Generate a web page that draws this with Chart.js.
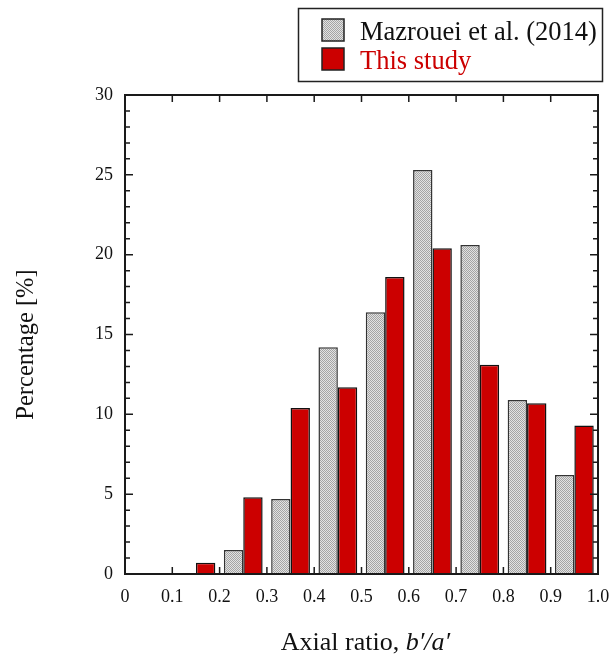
<!DOCTYPE html>
<html>
<head>
<meta charset="utf-8">
<script src="https://cdn.jsdelivr.net/npm/chart.js@4.4.1/dist/chart.umd.min.js"></script>
<style>
  html, body { margin: 0; padding: 0; background: #fff; }
</style>
</head>
<body>
<canvas id="myChart" width="612" height="659"></canvas>
<script>
// axial ratio bins (width 0.1)
const bins = ['0.0-0.1', '0.1-0.2', '0.2-0.3', '0.3-0.4', '0.4-0.5',
              '0.5-0.6', '0.6-0.7', '0.7-0.8', '0.8-0.9', '0.9-1.0'];
const xTicks = [0, 0.1, 0.2, 0.3, 0.4, 0.5, 0.6, 0.7, 0.8, 0.9, 1.0];
const yTicks = [0, 5, 10, 15, 20, 25, 30];
const seriesNames = ['Mazrouei et al. (2014)', 'This study'];
const mazrouei = [0, 0, 1.5, 4.7, 14.2, 16.4, 25.3, 20.6, 10.9, 6.2];
const thisStudy = [0, 0.7, 4.8, 10.4, 11.7, 18.6, 20.4, 13.1, 10.7, 9.3];

const FONT = '"Liberation Serif", "Times New Roman", serif';
const RED = '#cc0000';

// fine dotted gray fill
function dotPattern() {
  const c = document.createElement('canvas');
  c.width = 2; c.height = 2;
  const g = c.getContext('2d');
  g.fillStyle = '#e2e2e2';
  g.fillRect(0, 0, 2, 2);
  g.fillStyle = '#a4a4a4';
  g.fillRect(0, 0, 1, 1);
  g.fillRect(1, 1, 1, 1);
  return g.createPattern(c, 'repeat');
}
const GRAY = dotPattern();

// box frame with inward ticks on all four sides
const framePlugin = {
  id: 'frame',
  afterDatasetsDraw(chart) {
    const { ctx, chartArea: a, scales } = chart;
    const y = scales.y, x = scales.x2;
    ctx.save();
    ctx.strokeStyle = '#1a1a1a';
    ctx.lineWidth = 1.5;
    ctx.beginPath();
    for (let v = yTicks[0]; v <= yTicks[yTicks.length - 1]; v++) {
      const py = y.getPixelForValue(v);
      const len = v % 5 === 0 ? 8 : 5;
      ctx.moveTo(a.left, py); ctx.lineTo(a.left + len, py);
      ctx.moveTo(a.right, py); ctx.lineTo(a.right - len, py);
    }
    xTicks.forEach(v => {
      const px = x.getPixelForValue(v);
      ctx.moveTo(px, a.bottom); ctx.lineTo(px, a.bottom - 7);
      ctx.moveTo(px, a.top); ctx.lineTo(px, a.top + 7);
    });
    ctx.stroke();
    ctx.lineWidth = 2;
    ctx.strokeRect(a.left, a.top, a.right - a.left, a.bottom - a.top);
    ctx.restore();
  }
};

// axis titles and the boxed legend
const labelsPlugin = {
  id: 'labels',
  afterDraw(chart) {
    const { ctx, chartArea: a } = chart;
    ctx.save();
    ctx.fillStyle = '#111';
    ctx.textBaseline = 'alphabetic';

    // x title, with italic b'/a'
    const plain = 'Axial ratio, ';
    const ital = 'b\u2032/a\u2032';
    ctx.font = '26px ' + FONT;
    const w1 = ctx.measureText(plain).width;
    ctx.font = 'italic 26px ' + FONT;
    const w2 = ctx.measureText(ital).width;
    const x0 = (a.left + a.right) / 2 + 4 - (w1 + w2) / 2;
    ctx.font = '26px ' + FONT;
    ctx.textAlign = 'left';
    ctx.fillText(plain, x0, 650);
    ctx.font = 'italic 26px ' + FONT;
    ctx.fillText(ital, x0 + w1, 650);

    // y title
    ctx.save();
    ctx.translate(33, (a.top + a.bottom) / 2 + 10);
    ctx.rotate(-Math.PI / 2);
    ctx.font = '24.5px ' + FONT;
    ctx.textAlign = 'center';
    ctx.fillText('Percentage [%]', 0, 0);
    ctx.restore();

    // legend
    ctx.lineWidth = 1.5;
    ctx.strokeStyle = '#222';
    ctx.strokeRect(298.5, 8.5, 304, 73);
    const ds = chart.data.datasets;
    const rows = [19, 48];
    const colors = ['#111', RED];
    ctx.font = '26.5px ' + FONT;
    ds.forEach((d, i) => {
      ctx.fillStyle = d.backgroundColor;
      ctx.fillRect(322, rows[i], 22, 22);
      ctx.lineWidth = 1.5;
      ctx.strokeStyle = '#222';
      ctx.strokeRect(322, rows[i], 22, 22);
      ctx.fillStyle = colors[i];
      ctx.fillText(d.label, 360, rows[i] + 21);
    });
    ctx.restore();
  }
};

const ctx = document.getElementById('myChart').getContext('2d');
const myChart = new Chart(ctx, {
  type: 'bar',
  data: {
    labels: bins,
    datasets: [
      {
        label: seriesNames[0],
        data: mazrouei,
        backgroundColor: GRAY,
        borderColor: '#333',
        borderWidth: 1.5,
        barPercentage: 1,
        categoryPercentage: 0.82
      },
      {
        label: seriesNames[1],
        data: thisStudy,
        backgroundColor: RED,
        borderColor: '#111',
        borderWidth: 1.5,
        barPercentage: 1,
        categoryPercentage: 0.82
      }
    ]
  },
  options: {
    responsive: false,
    animation: false,
    devicePixelRatio: 1,
    layout: { padding: { top: 95, right: 14, left: 0, bottom: 0 } },
    plugins: {
      legend: { display: false },
      tooltip: { enabled: false }
    },
    scales: {
      x: { display: false },
      x2: {
        type: 'linear',
        position: 'bottom',
        offset: false,
        min: 0,
        max: 1,
        grid: { display: false, drawTicks: false, offset: false },
        border: { display: false },
        afterBuildTicks: s => { s.ticks = xTicks.map(v => ({ value: v })); },
        afterFit: s => {
          s.height = 85;
          s.paddingLeft = 0;
          s.paddingRight = 0;
        },
        ticks: {
          padding: 12,
          color: '#111',
          font: { family: FONT, size: 18 },
          maxRotation: 0,
          autoSkip: false,
          callback: v => (v === 0 ? '0' : v.toFixed(1))
        }
      },
      y: {
        min: 0,
        max: 30,
        grid: { display: false, drawTicks: false },
        border: { display: false },
        afterBuildTicks: s => { s.ticks = yTicks.map(v => ({ value: v })); },
        afterFit: s => { s.width = 125; },
        ticks: {
          padding: 12,
          color: '#111',
          font: { family: FONT, size: 18 }
        }
      }
    }
  },
  plugins: [framePlugin, labelsPlugin]
});
</script>
</body>
</html>
